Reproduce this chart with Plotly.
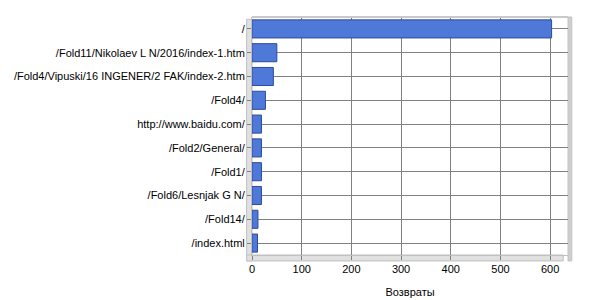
import plotly.graph_objects as go

categories = ["/", "/Fold11/Nikolaev L N/2016/index-1.htm",
              "/Fold4/Vipuski/16 INGENER/2 FAK/index-2.htm", "/Fold4/",
              "http://www.baidu.com/", "/Fold2/General/", "/Fold1/",
              "/Fold6/Lesnjak G N/", "/Fold14/", "/index.html"]
values = [603, 50, 43, 27, 19, 19, 19, 19, 12, 11]
tick_vals = [0, 100, 200, 300, 400, 500, 600]
x_title = "Возвраты"

fig = go.Figure()
fig.add_trace(go.Bar(
    y=categories, x=values, orientation="h", width=0.76,
    marker=dict(color="#4E79D8", line=dict(color="#2C4B9E", width=1)),
))

fig.update_layout(
    width=600, height=300,
    margin=dict(l=252, r=32, t=17, b=45),
    paper_bgcolor="white", plot_bgcolor="white",
    font=dict(family="Liberation Sans, Arial, sans-serif", size=11, color="black"),
    showlegend=False,
    xaxis=dict(range=[0, 636], tickvals=tick_vals, showgrid=True, gridcolor="#808080",
               gridwidth=1, zeroline=False, ticks="outside", ticklen=4, tickcolor="#808080",
               showline=True, linecolor="#C0C0C0", linewidth=1, automargin=False,
               title=dict(text=x_title, standoff=14, font=dict(size=11))),
    yaxis=dict(autorange="reversed", showgrid=True, gridcolor="#808080", gridwidth=1,
               ticks="outside", ticklen=4, tickcolor="#808080", showline=True,
               linecolor="#C0C0C0", linewidth=1, zeroline=False, automargin=False),
    shapes=[
        dict(type="rect", xref="paper", yref="paper", x0=-0.017, x1=0, y0=-0.025, y1=0.99,
             fillcolor="#E0E0E0", line=dict(color="#C0C0C0", width=1), layer="below"),
        dict(type="rect", xref="paper", yref="paper", x0=-0.017, x1=0.985, y0=-0.025, y1=0,
             fillcolor="#E0E0E0", line=dict(color="#C0C0C0", width=1), layer="below"),
        dict(type="line", xref="paper", yref="paper", x0=0, x1=1, y0=1, y1=1,
             line=dict(color="#C8C8C8", width=2)),
        dict(type="rect", xref="paper", yref="paper", x0=1, x1=1.012, y0=-0.025, y1=1.0,
             fillcolor="#D0D0D0", line=dict(color="#C0C0C0", width=1), layer="below"),
    ],
)
fig.write_html("out.html")
